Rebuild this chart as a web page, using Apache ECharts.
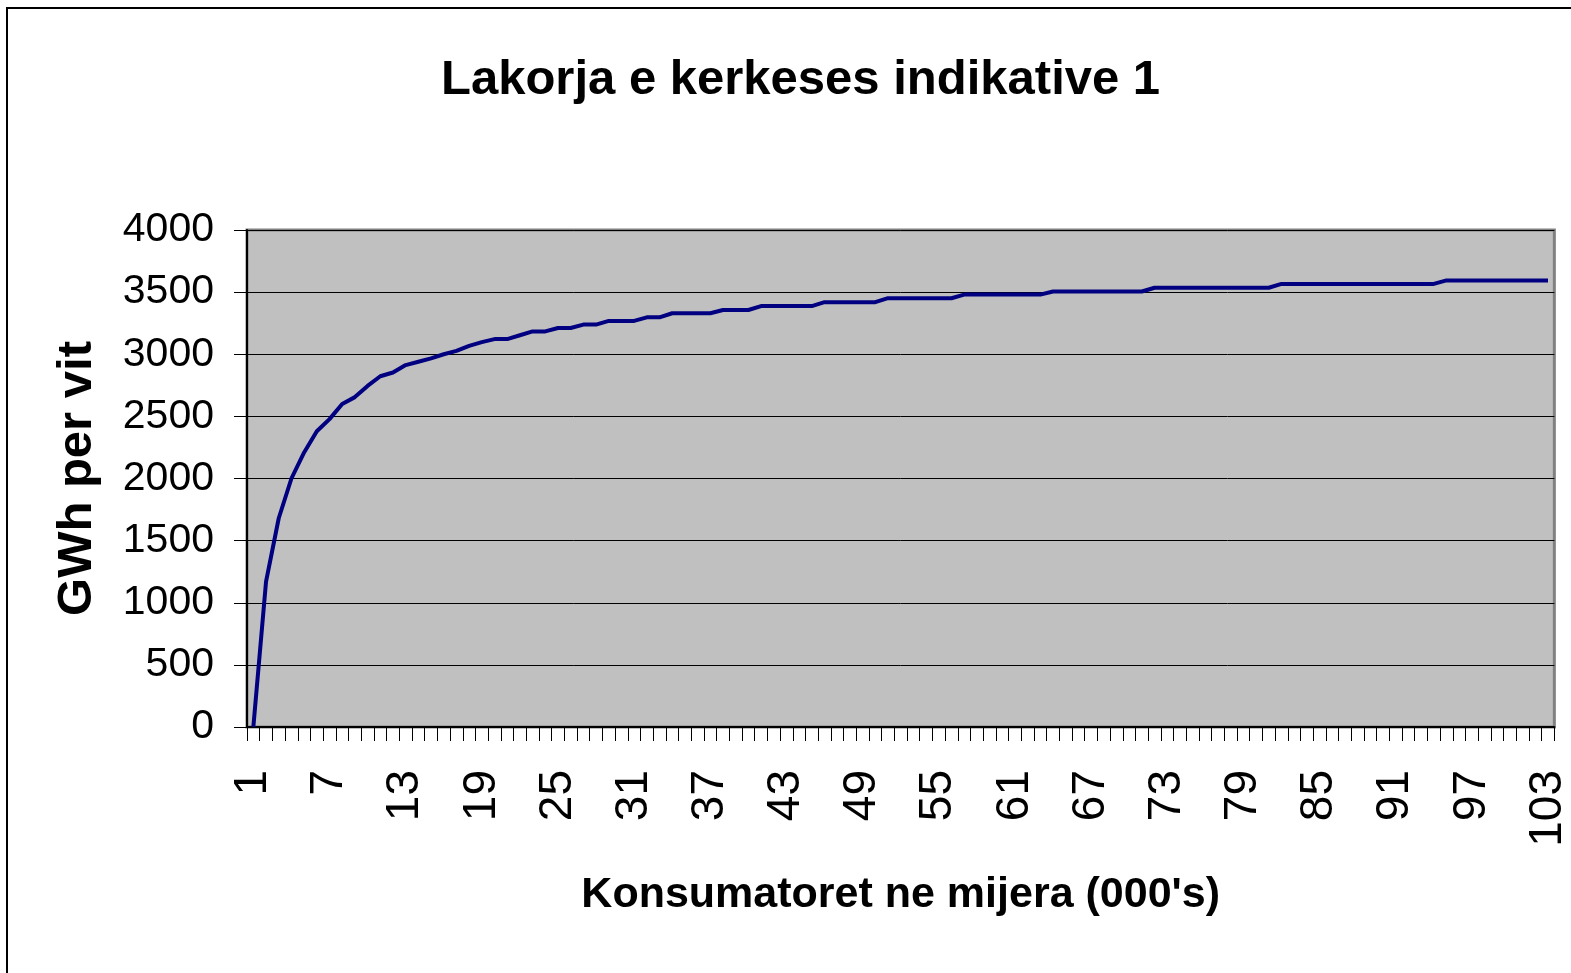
<!DOCTYPE html>
<html>
<head>
<meta charset="utf-8">
<script src="https://cdn.jsdelivr.net/npm/echarts@6/dist/echarts.min.js"></script>
<style>
html,body{margin:0;padding:0;background:#fff;}
#chart{width:1571px;height:973px;}
</style>
</head>
<body>
<div id="chart"></div>
<script>
const titleText = "Lakorja e kerkeses indikative 1";
const xAxisName = "Konsumatoret ne mijera (000's)";
const yAxisName = "GWh per vit";
const categories = [];
for (let i = 1; i <= 103; i++) categories.push(String(i));
const demand = [
  0, 1170, 1680, 2000, 2210, 2380, 2478, 2600, 2655, 2745,
  2823, 2853, 2913, 2940, 2967, 3000, 3027, 3068, 3098, 3122,
  3122, 3153, 3184, 3184, 3211, 3211, 3239, 3239, 3268, 3268,
  3268, 3297, 3297, 3330, 3330, 3330, 3330, 3356, 3356, 3356,
  3388, 3388, 3388, 3388, 3388, 3419, 3419, 3419, 3419, 3419,
  3451, 3451, 3451, 3451, 3451, 3451, 3480, 3480, 3480, 3480,
  3480, 3480, 3480, 3505, 3505, 3505, 3505, 3505, 3505, 3505,
  3505, 3535, 3535, 3535, 3535, 3535, 3535, 3535, 3535, 3535,
  3535, 3566, 3566, 3566, 3566, 3566, 3566, 3566, 3566, 3566,
  3566, 3566, 3566, 3566, 3594, 3594, 3594, 3594, 3594, 3594,
  3594, 3594, 3594
];
const yMin = 0, yMax = 4000, yStep = 500;

const FONT = "'Liberation Sans', Arial, sans-serif";

const chart = echarts.init(document.getElementById('chart'), null, {renderer: 'canvas'});
chart.setOption({
  backgroundColor: '#ffffff',
  animation: false,
  title: {
    text: titleText,
    left: 436,
    top: 51,
    textStyle: {fontFamily: FONT, fontWeight: 'bold', fontSize: 49, color: '#000'}
  },
  graphic: [{
    type: 'rect',
    shape: {x: 7, y: 8, width: 1700, height: 1100},
    style: {fill: 'none', stroke: '#000', lineWidth: 2},
    silent: true
  }],
  grid: {
    left: 247, right: 16, top: 230, bottom: 246,
    show: true, backgroundColor: '#C0C0C0', borderColor: '#808080', borderWidth: 3
  },
  xAxis: {
    type: 'category',
    data: categories,
    boundaryGap: true,
    name: xAxisName,
    nameLocation: 'middle',
    nameGap: 147,
    nameMoveOverlap: false,
    nameTextStyle: {fontFamily: FONT, fontWeight: 'bold', fontSize: 43, color: '#000'},
    axisLine: {show: true, lineStyle: {color: '#000', width: 2}},
    axisTick: {show: true, interval: 0, length: 14, lineStyle: {color: '#000', width: 1}},
    axisLabel: {interval: 5, rotate: 90, margin: 43, fontFamily: FONT, fontSize: 46, color: '#000'},
    splitLine: {show: false}
  },
  yAxis: {
    type: 'value',
    min: yMin, max: yMax, interval: yStep,
    name: yAxisName,
    nameLocation: 'middle',
    nameGap: 145,
    nameMoveOverlap: false,
    nameRotate: 90,
    nameTextStyle: {fontFamily: FONT, fontWeight: 'bold', fontSize: 49, color: '#000'},
    axisLine: {show: true, lineStyle: {color: '#000', width: 2}},
    axisTick: {show: true, length: 13, lineStyle: {color: '#000', width: 1}},
    axisLabel: {margin: 33, fontFamily: FONT, fontSize: 41, color: '#000', formatter: function (v) { return String(v); }},
    splitLine: {show: true, lineStyle: {color: '#000', width: 1}}
  },
  series: [{
    type: 'line',
    data: demand,
    symbol: 'none',
    lineStyle: {color: '#000080', width: 4},
    z: 5
  }]
});
</script>
</body>
</html>
